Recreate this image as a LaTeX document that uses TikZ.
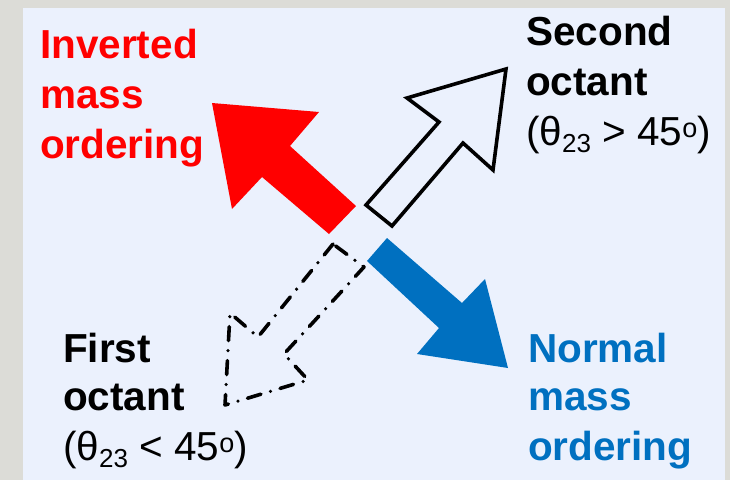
\documentclass[tikz,border=0pt]{standalone}
\usepackage{fontspec}
\setmainfont{Liberation Sans}
\definecolor{outerbg}{RGB}{220,220,215}
\definecolor{panelbg}{RGB}{235,241,253}
\definecolor{invred}{RGB}{255,0,0}
\definecolor{normblue}{RGB}{0,112,192}
\newcommand{\bigtxt}{\fontsize{40.5}{50}\selectfont}
\newcommand{\subtwothree}{\raisebox{-7pt}{\fontsize{26}{26}\selectfont 23}}
\newcommand{\degsup}{\raisebox{8pt}{\fontsize{27}{27}\selectfont o}}
\tikzset{
  lbl/.style={anchor=base west, inner sep=0pt, font=\bigtxt\bfseries},
  lblreg/.style={anchor=base west, inner sep=0pt, font=\bigtxt},
  outlinearrow/.style={draw=black, line width=3.6pt, line join=miter},
  dasharrow/.style={draw=black, line width=3.6pt, line cap=round, line join=round,
    dash pattern=on 14pt off 10pt on 0pt off 10pt}
}
\begin{document}
\begin{tikzpicture}[x=1pt,y=-1pt]
\useasboundingbox (0,0) rectangle (730,480);
\fill[outerbg] (0,0) rectangle (730,480);
\fill[panelbg] (23,8) rectangle (725,480);

% red arrow (inverted mass ordering)
\fill[invred] (212,103) -- (319,112) -- (290,146) -- (356,206) -- (329,234) -- (262,177) -- (232,209) -- cycle;

% black outline arrow (second octant)
\draw[outlinearrow] (506,69) -- (407,98) -- (439,122) -- (366,205) -- (392,226) -- (463,143) -- (493,170) -- cycle;

% blue arrow (normal mass ordering)
\fill[normblue] (387,238) -- (367,261) -- (439,328) -- (417,354) -- (508,368) -- (485,279) -- (462,303) -- cycle;

% dash-dotted arrow (first octant)
\draw[dasharrow] (333,244) -- (258,337) -- (230,313) -- (225,405) -- (308,380) -- (284,354) -- (364,267) -- cycle;

% labels
\node[lbl, text=invred] (inv1) at (40,58) {Inverted};
\node[lbl, text=invred] (inv2) at (40,108) {mass};
\node[lbl, text=invred] (inv3) at (40,158) {ordering};

\node[lbl] (sec1) at (526,45) {Second};
\node[lbl] (sec2) at (526,95) {octant};
\node[lblreg] (sec3) at (526,145) {(θ\subtwothree{} > 45\degsup)};

\node[lbl] (fir1) at (63,362) {First};
\node[lbl] (fir2) at (63,410) {octant};
\node[lblreg] (fir3) at (63,460) {(θ\subtwothree{} < 45\degsup)};

\node[lbl, text=normblue] (nor1) at (528,362) {Normal};
\node[lbl, text=normblue] (nor2) at (528,410) {mass};
\node[lbl, text=normblue] (nor3) at (528,460) {ordering};
\end{tikzpicture}
\end{document}
